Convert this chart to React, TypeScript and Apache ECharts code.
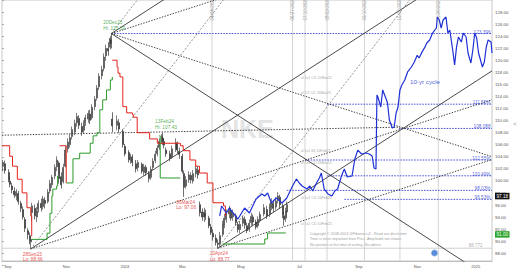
import React, { useEffect, useRef } from 'react';
import * as echarts from 'echarts';

const FIRST_DAY = '2023-08-29';
const LAST_DAY = '2025-01-21';
const MONTHS = ['Jan', 'Feb', 'Mar', 'Apr', 'May', 'Jun', 'Jul', 'Aug', 'Sep', 'Oct', 'Nov', 'Dec'];
const LABELLED_MONTHS = ['01', '03', '05', '07', '09', '11'];

const PLOT_MIN = 86.71;
const PLOT_MAX = 128.806;
const TICK_MIN = 86;
const TICK_MAX = 130;
const TICK_STEP = 2;

// price bars: [date, open, close, low, high]
const priceBars: [string, number, number, number, number][] = [
  ['2023-08-30', 102.0, 102.6, 101.2, 103.0], ['2023-09-01', 102.4, 101.3, 100.8, 102.9],
  ['2023-09-05', 101.0, 99.8, 99.4, 101.5], ['2023-09-06', 99.6, 99.1, 98.6, 100.2],
  ['2023-09-08', 98.8, 98.2, 97.6, 99.3], ['2023-09-11', 98.0, 97.4, 96.9, 98.6],
  ['2023-09-13', 97.2, 97.9, 96.5, 98.3], ['2023-09-15', 97.6, 96.3, 95.8, 98.0],
  ['2023-09-18', 96.0, 95.2, 94.6, 96.4], ['2023-09-20', 95.0, 93.8, 93.4, 95.5],
  ['2023-09-22', 93.4, 92.0, 91.4, 93.8], ['2023-09-25', 91.6, 91.0, 90.2, 92.0],
  ['2023-09-27', 90.8, 89.9, 89.4, 91.3], ['2023-09-28', 89.8, 90.2, 88.66, 90.7],
  ['2023-09-29', 94.5, 95.6, 93.2, 96.1], ['2023-10-02', 95.2, 94.0, 93.4, 95.8],
  ['2023-10-04', 93.8, 94.8, 93.0, 95.4], ['2023-10-06', 95.0, 96.0, 94.5, 96.5],
  ['2023-10-09', 96.0, 95.3, 94.7, 96.8], ['2023-10-11', 95.5, 96.7, 95.0, 97.2],
  ['2023-10-13', 96.5, 96.0, 95.2, 97.0], ['2023-10-16', 96.3, 97.8, 96.0, 98.3],
  ['2023-10-18', 98.0, 99.2, 97.6, 99.8], ['2023-10-20', 99.0, 100.2, 98.5, 100.6],
  ['2023-10-23', 100.4, 101.8, 99.9, 102.3], ['2023-10-25', 101.9, 103.0, 101.2, 103.6],
  ['2023-10-27', 102.5, 100.0, 99.2, 102.8], ['2023-10-30', 100.3, 99.0, 98.4, 101.0],
  ['2023-11-01', 99.5, 101.8, 99.2, 102.4], ['2023-11-03', 102.0, 104.6, 101.8, 105.2],
  ['2023-11-06', 104.8, 105.9, 104.2, 106.5], ['2023-11-08', 105.5, 106.6, 105.0, 107.2],
  ['2023-11-10', 106.8, 107.9, 106.3, 108.4], ['2023-11-13', 107.5, 108.9, 107.0, 109.5],
  ['2023-11-15', 109.0, 110.0, 108.4, 110.6], ['2023-11-17', 109.7, 108.6, 108.0, 110.2],
  ['2023-11-20', 108.4, 107.5, 106.9, 109.0], ['2023-11-22', 107.8, 108.9, 107.3, 109.4],
  ['2023-11-24', 109.0, 109.8, 108.5, 110.3], ['2023-11-27', 109.6, 110.5, 109.0, 111.0],
  ['2023-11-29', 110.4, 109.4, 108.8, 111.1], ['2023-12-01', 109.8, 111.5, 109.5, 112.0],
  ['2023-12-04', 111.6, 112.8, 111.0, 113.3], ['2023-12-06', 113.0, 114.6, 112.6, 115.1],
  ['2023-12-08', 114.8, 116.5, 114.3, 117.0], ['2023-12-11', 116.6, 117.6, 116.0, 118.2],
  ['2023-12-13', 117.8, 119.6, 117.3, 120.2], ['2023-12-15', 119.8, 121.0, 119.0, 121.6],
  ['2023-12-18', 121.0, 120.6, 119.8, 122.0], ['2023-12-20', 121.2, 122.6, 120.8, 123.0],
  ['2023-12-21', 122.4, 121.8, 121.0, 123.39], ['2023-12-22', 109.6, 108.5, 107.5, 110.7],
  ['2023-12-27', 108.6, 109.3, 107.8, 110.2], ['2023-12-29', 109.0, 108.0, 107.4, 109.6],
  ['2024-01-02', 107.6, 105.5, 105.0, 108.0], ['2024-01-04', 105.2, 104.0, 103.6, 105.6],
  ['2024-01-08', 104.2, 103.1, 102.6, 104.6], ['2024-01-10', 103.0, 103.6, 102.4, 104.0],
  ['2024-01-12', 103.5, 102.6, 102.0, 103.9], ['2024-01-16', 102.4, 101.6, 101.0, 103.0],
  ['2024-01-18', 101.8, 102.6, 101.2, 103.0], ['2024-01-22', 102.3, 101.2, 100.8, 102.6],
  ['2024-01-24', 101.0, 101.9, 100.5, 102.4], ['2024-01-26', 101.8, 101.0, 100.5, 102.2],
  ['2024-01-29', 100.8, 100.0, 99.4, 101.2], ['2024-01-31', 100.2, 101.5, 99.8, 102.0],
  ['2024-02-02', 101.8, 102.8, 101.4, 103.3], ['2024-02-05', 102.9, 103.9, 102.5, 104.5],
  ['2024-02-07', 104.0, 104.9, 103.6, 105.4], ['2024-02-09', 105.0, 106.0, 104.6, 106.5],
  ['2024-02-12', 106.0, 106.8, 105.6, 107.2], ['2024-02-13', 106.5, 106.1, 105.4, 107.43],
  ['2024-02-14', 106.0, 105.4, 104.9, 106.4], ['2024-02-16', 104.6, 104.0, 103.5, 105.0],
  ['2024-02-20', 104.0, 103.3, 102.8, 104.5], ['2024-02-22', 103.5, 104.8, 103.2, 105.3],
  ['2024-02-26', 104.8, 105.8, 104.3, 106.5], ['2024-02-28', 105.6, 104.6, 104.0, 106.0],
  ['2024-03-01', 104.4, 103.9, 103.2, 105.0], ['2024-03-04', 103.6, 101.2, 100.8, 104.0],
  ['2024-03-06', 100.8, 98.6, 97.06, 101.3], ['2024-03-08', 98.8, 99.8, 98.4, 100.4],
  ['2024-03-11', 99.8, 100.6, 99.3, 101.2], ['2024-03-13', 100.5, 99.8, 99.2, 101.0],
  ['2024-03-15', 99.6, 100.8, 99.2, 101.4], ['2024-03-18', 100.8, 101.6, 100.2, 102.2],
  ['2024-03-20', 101.4, 100.6, 100.0, 102.0], ['2024-03-22', 95.8, 94.5, 93.9, 96.3],
  ['2024-03-25', 94.6, 93.8, 93.2, 95.2], ['2024-03-27', 93.8, 94.6, 93.0, 95.3],
  ['2024-03-28', 94.4, 93.9, 93.3, 95.0], ['2024-04-01', 93.6, 92.4, 92.0, 94.0],
  ['2024-04-03', 92.2, 91.3, 90.9, 92.7], ['2024-04-05', 91.2, 90.6, 90.0, 91.8],
  ['2024-04-08', 90.4, 89.7, 89.2, 91.0], ['2024-04-10', 89.6, 89.4, 88.77, 90.2],
  ['2024-04-12', 89.5, 90.8, 89.0, 91.4], ['2024-04-15', 91.0, 92.6, 90.6, 93.2],
  ['2024-04-17', 92.5, 93.6, 92.0, 94.3], ['2024-04-19', 93.4, 94.4, 92.9, 95.0],
  ['2024-04-22', 94.3, 95.0, 93.6, 95.6], ['2024-04-24', 94.8, 93.6, 93.2, 95.3],
  ['2024-04-26', 93.8, 94.4, 93.2, 95.0], ['2024-04-29', 94.0, 92.9, 92.4, 94.4],
  ['2024-05-01', 92.6, 91.8, 91.3, 93.0], ['2024-05-03', 91.8, 92.6, 91.2, 93.2],
  ['2024-05-06', 92.8, 93.6, 92.3, 94.0], ['2024-05-08', 93.4, 92.5, 91.9, 93.9],
  ['2024-05-10', 92.4, 91.6, 91.2, 92.9], ['2024-05-13', 91.8, 92.8, 91.4, 93.4],
  ['2024-05-15', 92.9, 93.9, 92.4, 94.5], ['2024-05-17', 93.8, 93.0, 92.5, 94.2],
  ['2024-05-20', 93.0, 92.2, 91.8, 93.4], ['2024-05-22', 92.4, 93.4, 92.0, 93.9],
  ['2024-05-24', 93.3, 94.2, 92.9, 94.7], ['2024-05-28', 94.3, 95.3, 93.9, 95.9],
  ['2024-05-31', 95.0, 94.0, 93.5, 95.6], ['2024-06-03', 94.2, 95.4, 93.8, 96.0],
  ['2024-06-05', 95.4, 96.2, 94.9, 96.8], ['2024-06-07', 96.0, 95.2, 94.6, 96.5],
  ['2024-06-10', 95.4, 96.4, 95.0, 97.0], ['2024-06-12', 96.5, 97.2, 96.0, 97.8],
  ['2024-06-14', 97.0, 95.8, 95.2, 97.4], ['2024-06-17', 95.6, 94.2, 93.6, 96.0],
  ['2024-06-18', 94.0, 93.4, 92.4, 94.6], ['2024-06-20', 93.6, 94.8, 93.0, 95.3],
  ['2024-06-21', 94.6, 95.8, 94.0, 96.3],
];

// trailing stop segments [date, value]
const redStops: [string, number][][] = [
  [['2023-08-29', 105.3], ['2023-09-06', 103.6], ['2023-09-09', 102.0], ['2023-09-14', 99.9],
   ['2023-09-19', 97.7], ['2023-09-24', 95.3], ['2023-09-28', 94.0], ['2023-09-29', 90.7]],
  [['2023-10-28', 105.3], ['2023-11-04', 99.3]],
  [['2023-12-22', 119.1], ['2023-12-27', 118.0], ['2023-12-28', 117.0], ['2023-12-30', 116.4],
   ['2024-01-02', 111.6], ['2024-01-06', 110.6], ['2024-01-12', 110.3], ['2024-01-13', 109.9],
   ['2024-01-17', 107.4], ['2024-01-30', 106.4], ['2024-02-07', 105.7], ['2024-03-02', 105.3],
   ['2024-03-05', 104.5], ['2024-03-12', 103.0], ['2024-03-18', 102.0], ['2024-03-22', 100.9],
   ['2024-03-30', 99.3], ['2024-04-05', 96.1], ['2024-04-16', 95.6], ['2024-04-18', 94.0]],
];
const greenStops: [string, number][][] = [
  [['2023-09-29', 90.2], ['2023-10-15', 91.2], ['2023-10-18', 94.4], ['2023-10-20', 97.2],
   ['2023-10-21', 98.3], ['2023-10-25', 98.8], ['2023-10-26', 100.4], ['2023-10-28', 100.4]],
  [['2023-11-04', 99.3], ['2023-11-11', 103.2], ['2023-11-18', 104.1], ['2023-11-29', 105.7],
   ['2023-12-02', 106.9], ['2023-12-06', 107.4], ['2023-12-09', 111.1], ['2023-12-12', 112.7],
   ['2023-12-16', 114.3], ['2023-12-20', 115.9], ['2023-12-22', 116.4]],
  [['2024-02-09', 106.9], ['2024-02-10', 100.1], ['2024-03-02', 100.1]],
  [['2024-04-15', 89.45], ['2024-05-29', 90.26], ['2024-06-01', 91.23], ['2024-06-20', 91.23]],
];

// 10-year cycle projection
const cycle10: [string, number][] = [
  ['2024-04-12', 93.97], ['2024-04-14', 95.58], ['2024-04-19', 94.45], ['2024-04-22', 95.26],
  ['2024-05-01', 93.48], ['2024-05-08', 95.26], ['2024-05-13', 94.45], ['2024-05-20', 96.71],
  ['2024-05-26', 97.52], ['2024-05-29', 97.19], ['2024-06-01', 97.68], ['2024-06-05', 96.06],
  ['2024-06-10', 96.87], ['2024-06-16', 96.06], ['2024-06-21', 96.87], ['2024-06-27', 98.81],
  ['2024-07-01', 99.94], ['2024-07-04', 99.29], ['2024-07-07', 98.81], ['2024-07-12', 98.32],
  ['2024-07-15', 98.81], ['2024-07-18', 98.0], ['2024-07-22', 99.29], ['2024-07-25', 100.1],
  ['2024-07-27', 100.9], ['2024-07-30', 98.32], ['2024-08-03', 97.52], ['2024-08-07', 97.19],
  ['2024-08-10', 98.0], ['2024-08-13', 98.32], ['2024-08-17', 100.42], ['2024-08-20', 101.55],
  ['2024-08-23', 100.26], ['2024-08-28', 100.42], ['2024-08-31', 103.16], ['2024-09-03', 104.6],
  ['2024-09-07', 103.97], ['2024-09-12', 104.13], ['2024-09-15', 103.97], ['2024-09-18', 103.65],
  ['2024-09-20', 101.7], ['2024-09-22', 101.55], ['2024-09-23', 113.5], ['2024-09-24', 113.16],
  ['2024-09-27', 111.55], ['2024-09-29', 114.3], ['2024-10-03', 112.68], ['2024-10-04', 112.2],
  ['2024-10-06', 109.45], ['2024-10-09', 108.16], ['2024-10-11', 108.32], ['2024-10-13', 110.58],
  ['2024-10-15', 111.55], ['2024-10-17', 114.3], ['2024-10-19', 115.1], ['2024-10-22', 115.9],
  ['2024-10-25', 117.2], ['2024-10-29', 118.0], ['2024-11-01', 118.8], ['2024-11-04', 119.9],
  ['2024-11-06', 119.45], ['2024-11-09', 120.4], ['2024-11-12', 121.2], ['2024-11-14', 121.87],
  ['2024-11-17', 122.35], ['2024-11-20', 123.48], ['2024-11-24', 124.29], ['2024-11-25', 126.06],
  ['2024-11-27', 125.58], ['2024-11-29', 124.29], ['2024-12-01', 125.58], ['2024-12-04', 126.06],
  ['2024-12-06', 123.48], ['2024-12-08', 123.97], ['2024-12-11', 120.74], ['2024-12-13', 118.32],
  ['2024-12-15', 121.2], ['2024-12-17', 122.84], ['2024-12-20', 122.03], ['2024-12-22', 123.48],
  ['2024-12-25', 122.84], ['2024-12-27', 120.26], ['2024-12-30', 118.65], ['2025-01-01', 120.74],
  ['2025-01-03', 123.48], ['2025-01-05', 122.68], ['2025-01-07', 120.26], ['2025-01-11', 118.0],
  ['2025-01-13', 118.8], ['2025-01-15', 121.2], ['2025-01-17', 122.35], ['2025-01-20', 122.03],
  ['2025-01-21', 120.26],
];

// Gann fan lines, each [start, end]
const solidFans: [string, number][][] = [
  [['2023-09-28', 88.66], ['2025-01-21', 136.76]],
  [['2023-12-21', 123.39], ['2025-01-21', 83.69]],
  [['2023-12-21', 123.39], ['2025-01-21', 163.09]],
  [['2024-04-10', 88.77], ['2025-01-21', 117.37]],
];
const dottedFans: [string, number][][] = [
  [['2023-09-28', 88.66], ['2025-01-21', 112.71]],
  [['2023-12-21', 123.39], ['2025-01-21', 103.54]],
  [['2023-12-21', 123.39], ['2025-01-21', 143.24]],
  [['2024-04-10', 88.77], ['2025-01-21', 103.07]],
  [['2023-08-29', 107.0], ['2024-10-17', 108.3]],
];
const dashedFans: [string, number][][] = [
  [['2023-09-28', 88.66], ['2025-01-21', 184.86]],
  [['2023-12-21', 123.39], ['2025-01-21', 202.8]],
  [['2024-04-10', 88.77], ['2025-01-21', 145.97]],
];

// horizontal target levels
const levelStarts = ['2023-12-21', '2024-08-02', '2024-10-16', '2024-07-10', '2024-08-02', '2024-06-21', '2024-08-20'];
const levelValues = [123.396, 112.0, 108.088, 103.0, 100.45, 98.1, 96.65];
const levelTexts = ['123.396', '111.55%', '108.088', '102.55%', '100.49%', '98.03%', '96.53%'];
const baseLevel = 88.772;

// cycle dates
const cycleDates = ['2024-04-04', '2024-06-27', '2024-07-10', '2024-08-02', '2024-09-10', '2024-10-17', '2024-11-26'];
const cycleDateTexts = ['04/04/2024', '06/27/2024', '07/10/2024', '08/02/2024', '09/10/2024', '10/17/2024', '11/26/2024'];

// swing extremes
const extremeDates = ['2023-09-28', '2023-12-21', '2024-02-13', '2024-03-06', '2024-04-10'];
const extremeValues = [88.66, 123.39, 107.43, 97.06, 88.77];
const extremeTexts = ['28Sep23\nLo: 88.66', '20Dec23\nHi: 123.39', '13Feb24\nHi: 107.43', '06Mar24\nLo: 97.06', '10Apr24\nLo: 88.77'];
const extremeIsHigh = [false, true, true, false, false];

// fan line notes
const noteDate = '2024-07-05';
const noteValues = [116.2, 113.8, 104.45, 102.5, 96.87, 92.68];
const noteTexts = ['ul 1x1 CD 25Mar25', 'ul 1/2 CD 26Mar25', 'ul 1x1.68 10Feb25', 'ul 1x1 CD 26Mar25', 'ul 1x1 CD 10Feb25', 'ul 1x2 CD 10Feb25'];

const lastPrice = 97.18;
const stopPrice = 91.0;
const cycleLabelPoint: [string, number] = ['2024-10-27', 115.74];
const eventPoint: [string, number] = ['2024-11-22', 88.0];

function buildDays(a: string, b: string): string[] {
  const out: string[] = [];
  let t = Date.parse(a + 'T00:00:00Z');
  const end = Date.parse(b + 'T00:00:00Z');
  while (t <= end) {
    out.push(new Date(t).toISOString().slice(0, 10));
    t += 86400000;
  }
  return out;
}

const FONT = 'Liberation Sans, Arial, sans-serif';

function buildOption() {
  const categories = buildDays(FIRST_DAY, LAST_DAY);
  const isLabelDay = (v: string) => v.slice(8) === '01' && LABELLED_MONTHS.includes(v.slice(5, 7));
  const monthLabel = (v: string) => (v.slice(5, 7) === '01' ? v.slice(0, 4) : MONTHS[+v.slice(5, 7) - 1]);

  const barByDay = new Map<string, number[]>();
  priceBars.forEach((b) => barByDay.set(b[0], [b[1], b[2], b[3], b[4]]));
  const candleData = categories.map((d) => barByDay.get(d) || ['-', '-', '-', '-']);

  const series: any[] = [];

  cycleDates.forEach((d) => {
    series.push({
      type: 'line', data: [[d, PLOT_MIN], [d, PLOT_MAX]], symbol: 'none', silent: true, z: 1,
      lineStyle: { color: '#cfcfcf', width: 0.9 },
    });
  });

  series.push({
    type: 'line', data: [[FIRST_DAY, baseLevel], [LAST_DAY, baseLevel]], symbol: 'none', z: 1,
    lineStyle: { color: '#c4c4c4', width: 0.8 },
  });

  levelStarts.forEach((d, i) => {
    series.push({
      type: 'line', data: [[d, levelValues[i]], [LAST_DAY, levelValues[i]]], symbol: 'none', z: 2,
      lineStyle: { color: '#3a44d4', width: 0.9, type: [1.6, 1.2] },
    });
  });

  solidFans.forEach((seg) => series.push({
    type: 'line', data: seg, symbol: 'none', z: 3, lineStyle: { color: '#1c1c1c', width: 0.8 },
  }));
  dottedFans.forEach((seg) => series.push({
    type: 'line', data: seg, symbol: 'none', z: 3, lineStyle: { color: '#2a2a2a', width: 0.9, type: [1.4, 1.4] },
  }));
  dashedFans.forEach((seg) => series.push({
    type: 'line', data: seg, symbol: 'none', z: 3, lineStyle: { color: '#7a7a7a', width: 0.8, type: [2, 1.6] },
  }));

  series.push({
    type: 'candlestick', name: 'NKE', z: 4, barWidth: 1.5, barMinWidth: 1,
    data: candleData,
    itemStyle: { color: '#4a4a4a', color0: '#333', borderColor: '#4a4a4a', borderColor0: '#333', borderWidth: 0.7 },
  });

  redStops.forEach((seg) => series.push({
    type: 'line', data: seg, step: 'end', symbol: 'none', z: 5, lineStyle: { color: '#e3231b', width: 1 },
  }));
  greenStops.forEach((seg) => series.push({
    type: 'line', data: seg, step: 'end', symbol: 'none', z: 5, lineStyle: { color: '#2c9a2c', width: 1 },
  }));

  series.push({
    type: 'line', data: cycle10, symbol: 'none', z: 6, lineStyle: { color: '#1f31d6', width: 1.2 },
  });

  // text annotations
  const labels: any[] = [];
  levelValues.forEach((v, i) => labels.push({
    value: [LAST_DAY, v], name: levelTexts[i],
    label: { position: 'left', distance: 1, offset: [0, -1.5], color: '#2d3ad0', fontSize: 4.7 },
  }));
  labels.push({
    value: [LAST_DAY, baseLevel], name: '88.772',
    label: { position: 'left', distance: 1, offset: [-8, -2.5], color: '#999', fontSize: 4.5 },
  });
  extremeDates.forEach((d, i) => labels.push({
    value: [d, extremeValues[i]], name: extremeTexts[i],
    label: {
      position: extremeIsHigh[i] ? 'top' : 'bottom', distance: 2,
      color: extremeIsHigh[i] ? '#2e9a2e' : '#e3231b', fontSize: 4.8, lineHeight: 5.6, align: 'left', offset: [-8, 0],
    },
  }));
  noteValues.forEach((v, i) => labels.push({
    value: [noteDate, v], name: noteTexts[i],
    label: { position: 'right', distance: 0, color: '#8a8a8a', fontSize: 3.6 },
  }));
  cycleDates.forEach((d, i) => labels.push({
    value: [d, 127.74], name: cycleDateTexts[i],
    label: { position: 'inside', rotate: 90, color: '#7a7a7a', fontSize: 4.6, offset: [-2.5, 0] },
  }));
  labels.push({
    value: cycleLabelPoint, name: '10-yr cycle',
    label: { position: 'right', distance: 0, color: '#2233d0', fontSize: 6.2 },
  });

  series.push({
    type: 'scatter', data: labels, symbolSize: 1, clip: false, z: 8, silent: true,
    itemStyle: { color: 'rgba(0,0,0,0)' },
    label: { show: true, formatter: (p: any) => p.name, fontFamily: FONT },
    markLine: {
      symbol: 'none', silent: true,
      lineStyle: { color: 'rgba(0,0,0,0)', width: 0 },
      label: { position: 'end', distance: 3, fontSize: 4.6, color: '#fff', padding: [1, 1.5, 0.5, 1.5], fontFamily: FONT },
      data: [
        { yAxis: lastPrice, label: { formatter: lastPrice.toFixed(2), backgroundColor: '#111' } },
        { yAxis: stopPrice, label: { formatter: stopPrice.toFixed(2), backgroundColor: '#2fa32f', color: '#e8ffe8' } },
      ],
    },
  });

  series.push({
    type: 'scatter', data: [eventPoint], symbol: 'circle', symbolSize: 6.5, z: 9, clip: false,
    itemStyle: { color: '#2f6fd0', borderColor: '#a9c4f0', borderWidth: 0.8 },
  });

  return {
    animation: false,
    backgroundColor: '#ffffff',
    textStyle: { fontFamily: FONT },
    grid: [
      { left: 2, top: 0, width: 490, height: 261, show: true, borderColor: '#c8c8c8', borderWidth: 1, backgroundColor: 'transparent' },
      { left: 2, top: -(TICK_MAX - PLOT_MAX) * 6.2, width: 490, height: (TICK_MAX - TICK_MIN) * 6.2 },
    ],
    xAxis: [
      {
        type: 'category', gridIndex: 0, data: categories, boundaryGap: false,
        axisLine: { lineStyle: { color: '#bdbdbd', width: 1 } },
        axisTick: { show: false },
        axisLabel: {
          interval: (_i: number, v: string) => isLabelDay(v),
          formatter: (v: string) => monthLabel(v),
          fontSize: 4, color: '#555', margin: 3, padding: [0, 0, 0, 6],
        },
        splitLine: { show: false },
      },
      { type: 'value', gridIndex: 1, show: false, min: 0, max: 1 },
    ],
    yAxis: [
      { type: 'value', gridIndex: 0, min: PLOT_MIN, max: PLOT_MAX, show: false, splitLine: { show: false } },
      {
        type: 'value', gridIndex: 1, min: TICK_MIN, max: TICK_MAX, interval: TICK_STEP, position: 'right',
        axisLine: { show: false },
        axisTick: { show: true, length: 2, lineStyle: { color: '#9a9a9a', width: 0.8 } },
        axisLabel: {
          fontSize: 4.4, color: '#555', margin: 3,
          formatter: (v: number) => (v < 87 || v > 129 ? '' : v.toFixed(2)),
        },
        splitLine: { show: false },
      },
    ],
    graphic: [
      {
        type: 'text', left: 221, top: 116, z: 0, silent: true,
        style: { text: 'NKE', fontSize: 25, fontWeight: 'bold', fill: '#e4e4e4', fontFamily: FONT },
      },
      {
        type: 'text', left: 310, top: 231, z: 0, silent: true,
        style: {
          text: 'Copyright © 2008-2024 @Fibonacci2 - Read our disclaimer\nTime is more important than Price. Amplitude not shown\nNo position at the time of writing. No advice',
          fontSize: 3.7, lineHeight: 5.6, fill: '#a0a0a0', fontFamily: FONT,
        },
      },
      {
        type: 'text', left: 513, top: 121, z: 0, silent: true,
        style: { text: '<', fontSize: 6, fill: '#888', fontFamily: FONT },
      },
    ],
    series,
  };
}

export default function App() {
  const ref = useRef<HTMLDivElement>(null);
  useEffect(() => {
    if (!ref.current) return;
    const chart = echarts.init(ref.current, undefined, { renderer: 'svg', width: 520, height: 272 });
    chart.setOption(buildOption() as any);
    return () => chart.dispose();
  }, []);
  return (
    <div
      ref={ref}
      style={{ position: 'fixed', left: 0, top: 0, width: 520, height: 272, background: '#fff' }}
    />
  );
}
